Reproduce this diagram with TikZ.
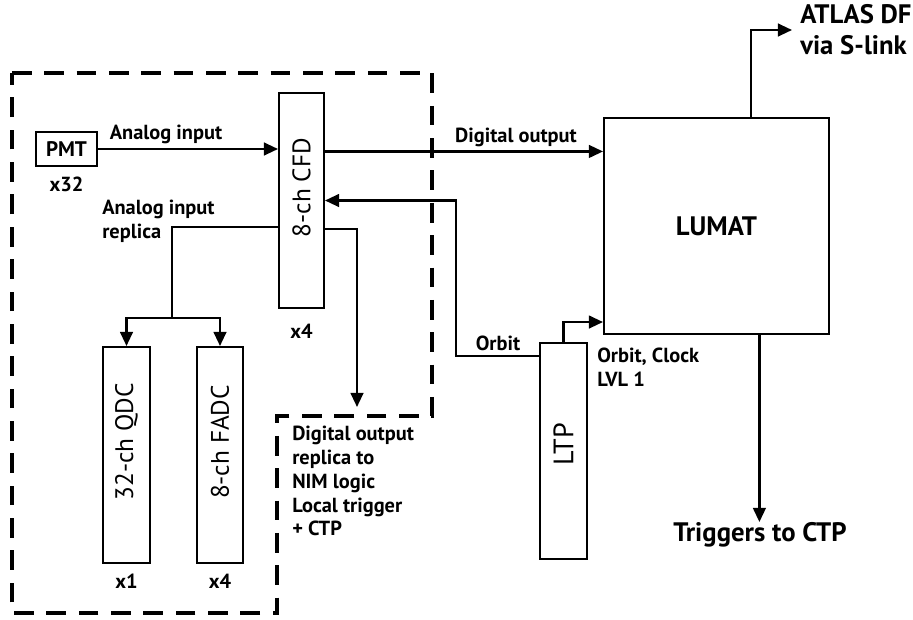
\documentclass[tikz,border=0pt]{standalone}
\usepackage{fontspec}
\usepackage{graphicx}
\setmainfont{PT Sans}
\usetikzlibrary{
    arrows.meta,
    positioning,
    calc
}
\tikzset{
  card/.style   = {draw, line width=1.4pt, inner sep=0pt,
                   font=\fontsize{18}{20}\selectfont},
  lbl/.style    = {inner sep=0pt, align=left,
                   font=\bfseries\fontsize{14.5}{17}\selectfont},
  big/.style    = {inner sep=0pt, align=left,
                   font=\bfseries\fontsize{19}{22}\selectfont},
  arr/.style    = {-{Triangle[length=10pt,width=9pt]}, line width=1.6pt},
  wire/.style   = {line width=1.6pt},
  rack/.style   = {line width=2.8pt, dash pattern=on 14pt off 9pt}
}

\begin{document}
\begin{tikzpicture}[x=0.025cm, y=-0.025cm]
\useasboundingbox (0,0) rectangle (913,619);
\draw[rack] (12,73) -- (432,73) -- (432,416) -- (277,416) -- (277,613) -- (12,613) -- cycle;

\node[card, font=\bfseries\fontsize{15}{17}\selectfont,
      minimum width=1.525cm, minimum height=0.85cm] (PMT) at (66.5,149) {PMT};
\node[card, minimum width=1.125cm, minimum height=5.375cm] (CFD) at (301.5,200.5) {\rotatebox{90}{\hspace{0.65cm}8-ch CFD}};
\node[card, minimum width=1.175cm, minimum height=5.4cm] (QDC) at (126.5,455) {\rotatebox{90}{\hspace{0.65cm}32-ch QDC}};
\node[card, minimum width=1.15cm, minimum height=5.4cm] (FADC) at (220,455) {\rotatebox{90}{\hspace{0.65cm}8-ch FADC}};
\node[card, font=\bfseries\fontsize{19}{21}\selectfont,
      minimum width=5.625cm, minimum height=5.4cm] (LUMAT) at (716.5,226) {LUMAT};
\node[card, font=\fontsize{20}{22}\selectfont,
      minimum width=1.175cm, minimum height=5.4cm] (LTP) at (563.5,451) {\rotatebox{90}{\hspace{0.35cm}LTP}};

\node[lbl, below=0.25cm of PMT] {x32};
\node[lbl, below=0.37cm of CFD] {x4};
\node[lbl, below=0.25cm of QDC] {x1};
\node[lbl, below=0.25cm of FADC] {x4};

\node[lbl] (ain) at (166,134) {Analog input};
\node[lbl, anchor=west] (arep) at (102,221) {Analog input\\replica};
\node[lbl] (dout) at (516,137) {Digital output};
\node[lbl] (orb) at (498,343) {Orbit};
\node[lbl, anchor=west] (orbclk) at (597,367) {Orbit, Clock\\LVL 1};
\node[lbl, anchor=west] (nim) at (292,481) {Digital output\\replica to\\NIM logic\\Local trigger\\+ CTP};
\node[big, anchor=west] (atlas) at (800,30) {ATLAS DF\\via S-link};
\node[big, anchor=north] (trig) at (760,522) {Triggers to CTP};

\coordinate (cfdout) at ($(CFD.north east)!0.274!(CFD.south east)$);
\coordinate (cfdrep) at ($(CFD.north east)!0.633!(CFD.south east)$);
\coordinate (cfdana) at ($(CFD.north west)!0.623!(CFD.south west)$);
\coordinate (split) at (172,318);
\coordinate (nimin) at (357,407);
\coordinate (ltpin) at ($(LTP.north west)!0.065!(LTP.south west)$);
\coordinate (lumtop) at ($(LUMAT.north west)!0.653!(LUMAT.north east)$);
\coordinate (lumbot) at ($(LUMAT.south west)!0.689!(LUMAT.south east)$);

\draw[arr] (PMT.east) -- (PMT.east -| CFD.west);
\draw[arr] (cfdout) -- (cfdout -| LUMAT.west);
\draw[wire] (cfdana) -| (split);
\draw[arr] (split) -| (QDC.north);
\draw[arr] (split) -| (FADC.north);
\draw[arr] (cfdrep) -| (nimin);
\draw[arr] (ltpin) -- ++(-83,0) |- (CFD.east);
\draw[arr] (LTP.north) |- ($(LUMAT.south west)+(0,-13)$);
\draw[arr] (lumtop) |- ([xshift=-0.2cm]atlas.west);
\draw[arr] (lumbot) -- (lumbot |- trig.north);
\end{tikzpicture}
\end{document}
